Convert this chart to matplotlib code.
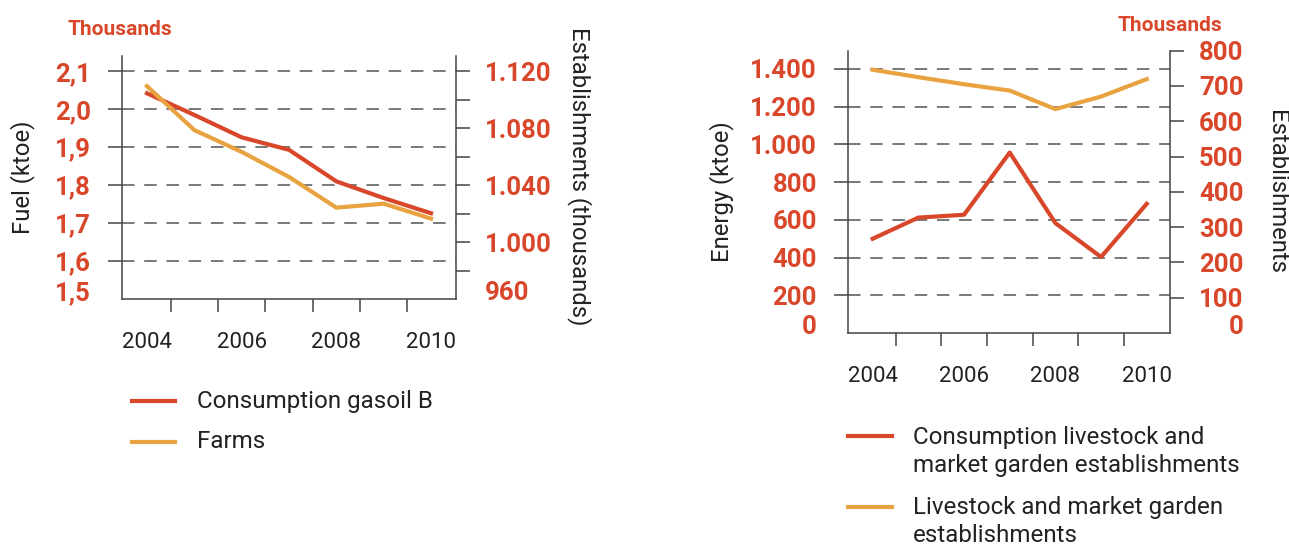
import matplotlib
matplotlib.use('Agg')
import matplotlib.pyplot as plt
from matplotlib.lines import Line2D
from matplotlib.transforms import ScaledTranslation

plt.rcParams['font.family'] = ['Roboto', 'DejaVu Sans']
plt.rcParams['lines.scale_dashes'] = False

RED = '#d9472b'
ORANGE = '#e8a23f'
INK = '#222222'
AXC = '#444444'
W, H = 1289, 548

years = [2004, 2005, 2006, 2007, 2008, 2009, 2010]
year_labels = [2004, 2006, 2008, 2010]

# left chart: fuel (ktoe, thousands) and farms (thousands)
gasoil_b = [2.042, 1.985, 1.926, 1.893, 1.810, 1.766, 1.726]
farms = [1109.6, 1078.7, 1063.4, 1045.8, 1024.2, 1027.0, 1016.5]
fuel_ticks = [1.5, 1.6, 1.7, 1.8, 1.9, 2.0, 2.1]
farm_ticks = [960, 1000, 1040, 1080, 1120]
farm_minor = [980, 1020, 1060, 1100]

# right chart: energy (ktoe) and establishments (thousands)
consumption = [500, 612, 627, 957, 583, 403, 685]
establishments = [746, 725, 705, 687, 634.5, 670, 719.5]
energy_ticks = [0, 200, 400, 600, 800, 1000, 1200, 1400]
estab_ticks = [0, 100, 200, 300, 400, 500, 600, 700, 800]

legend_left = ['Consumption gasoil B', 'Farms']
legend_right = ['Consumption livestock and\nmarket garden establishments',
                'Livestock and market garden\nestablishments']


def comma(v):
    return f'{v:.1f}'.replace('.', ',')


def dots(v):
    return f'{v:,.0f}'.replace(',', '.')


def setup(ax, ax2, xlim, yl, yl2, ticks, tick_fmt, ticks2, fmt2, minor2,
          pad2, ha2='left'):
    ax.set_xlim(*xlim)
    ax.set_ylim(*yl)
    ax2.set_ylim(*yl2)
    for s in ['top', 'right']:
        ax.spines[s].set_visible(False)
    for s in ['top', 'left', 'bottom']:
        ax2.spines[s].set_visible(False)
    for sp in [ax.spines['left'], ax.spines['bottom'], ax2.spines['right']]:
        sp.set_color(AXC)
        sp.set_linewidth(1.1)

    ax.set_xticks(year_labels, labels=[str(y) for y in year_labels],
                  fontsize=16, color=INK)
    ax.set_xticks([y + 0.5 for y in years[:-1]], minor=True)
    ax.tick_params(axis='x', which='major', length=0, pad=23.5)
    ax.tick_params(axis='x', which='minor', length=9.2, width=1.1,
                   color=AXC, direction='out')

    ax.tick_params(axis='y', length=10, width=1.1, color=AXC, pad=12.5)
    ax.set_yticks(ticks, labels=[tick_fmt(v) for v in ticks],
                  fontsize=18.5, fontweight='bold', color=RED)
    ax.grid(axis='y', color='#555555', lw=1.1, linestyle=(0, (9, 7)))

    ax2.tick_params(axis='y', which='both', length=10, width=1.1,
                    color=AXC, direction='out')
    ax2.tick_params(axis='y', which='major', pad=pad2)
    ax2.set_yticks(ticks2, labels=[fmt2(v) for v in ticks2],
                   fontsize=18.5, fontweight='bold', color=RED, ha=ha2)
    if minor2:
        ax2.set_yticks(minor2, minor=True)

    # bottom labels sit a little above the axis, no tick mark there
    up = ScaledTranslation(0, 0.085, ax.figure.dpi_scale_trans)
    for a, side in [(ax, 1), (ax2, 2)]:
        t = a.yaxis.get_major_ticks()[0]
        t.tick1line.set_visible(False)
        t.tick2line.set_visible(False)
        t.gridline.set_visible(False)
        lbl = t.label1 if side == 1 else t.label2
        lbl.set_transform(lbl.get_transform() + up)


fig = plt.figure(figsize=(W / 100, H / 100), dpi=100)

# ---- left chart
ax = fig.add_axes([122 / W, 1 - 299 / H, 334 / W, 243 / H])
ax2 = ax.twinx()
setup(ax, ax2, (2003.472, 2010.528), (1.5, 2.1403), (960, 1130.8),
      fuel_ticks, comma, farm_ticks, dots, farm_minor, 11)
ax.plot(years, gasoil_b, color=RED, lw=3)
ax2.plot(years, farms, color=ORANGE, lw=3)

ax.set_ylabel('Fuel (ktoe)', fontsize=17.2, color=INK, va='center')
ax.yaxis.set_label_coords(-0.2964, 0.5)
ax2.set_ylabel('Establishments (thousands)', fontsize=17.2, color=INK,
               rotation=-90, va='center')
ax2.yaxis.set_label_coords(1.371, 0.504)
ax.text(-0.006, 1.11, 'Thousands', transform=ax.transAxes, ha='center',
        va='center', fontsize=15, fontweight='bold', color=RED)

# ---- right chart
bx = fig.add_axes([848.3 / W, 1 - 333 / H, 321.7 / W, 282.3 / H])
bx2 = bx.twinx()
setup(bx, bx2, (2003.466, 2010.51), (0, 1497), (0, 800),
      energy_ticks, dots, estab_ticks, dots, None, 43, 'right')
bx.plot(years, consumption, color=RED, lw=3)
bx2.plot(years, establishments, color=ORANGE, lw=3)

bx.set_ylabel('Energy (ktoe)', fontsize=17.2, color=INK, va='center')
bx.yaxis.set_label_coords(-0.3935, 0.5)
bx2.set_ylabel('Establishments', fontsize=17.2, color=INK,
               rotation=-90, va='center')
bx2.yaxis.set_label_coords(1.3317, 0.5)
bx.text(1.0, 1.091, 'Thousands', transform=bx.transAxes, ha='center',
        va='center', fontsize=15, fontweight='bold', color=RED)

# ---- legends (drawn by hand, below each chart)
for color, label, yl, yt in zip([RED, ORANGE], legend_left,
                                [401, 441.7], [401.7, 441.7]):
    fig.add_artist(Line2D([132 / W, 175 / W], [1 - yl / H] * 2,
                          color=color, lw=3))
    fig.text(196.7 / W, 1 - yt / H, label, fontsize=17.4, color=INK,
             va='center')

for color, label, yl, yt in zip([RED, ORANGE], legend_right,
                                [436, 507.3], [451.7, 521.8]):
    fig.add_artist(Line2D([848 / W, 891.7 / W], [1 - yl / H] * 2,
                          color=color, lw=3))
    fig.text(913 / W, 1 - yt / H, label, fontsize=17.4, color=INK,
             va='center', linespacing=1.3)

fig.savefig('out.png', dpi=100)
